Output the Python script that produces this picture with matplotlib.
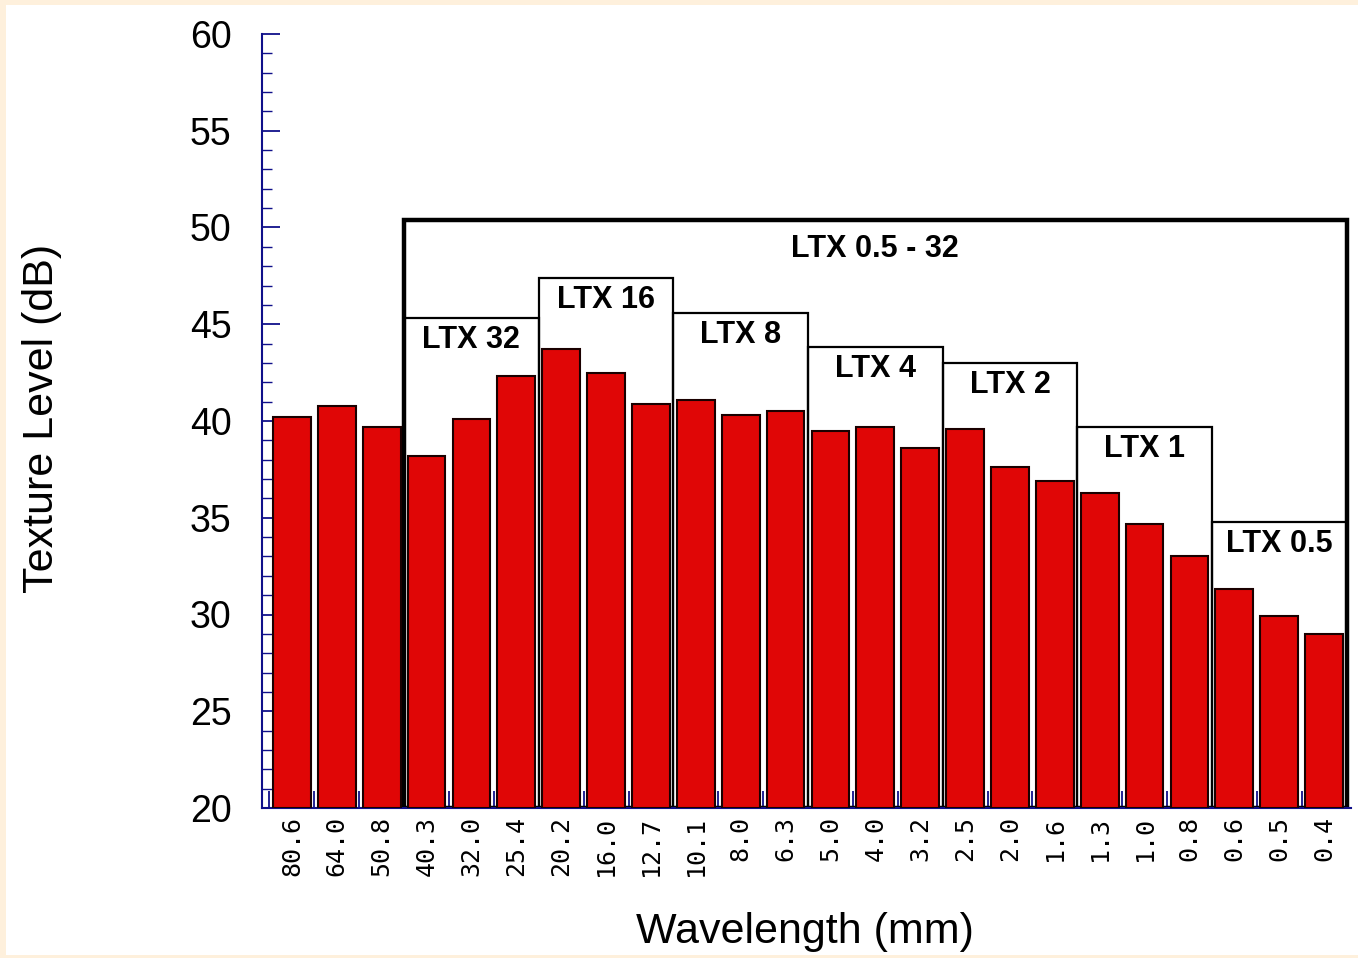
import matplotlib.pyplot as plt
from matplotlib.patches import Rectangle
from matplotlib.ticker import MultipleLocator, FixedLocator

plt.rcParams['font.family'] = ['Liberation Sans', 'DejaVu Sans']

wavelengths = ['80.6', '64.0', '50.8', '40.3', '32.0', '25.4', '20.2', '16.0',
               '12.7', '10.1', '8.0', '6.3', '5.0', '4.0', '3.2', '2.5', '2.0',
               '1.6', '1.3', '1.0', '0.8', '0.6', '0.5', '0.4']
levels = [40.2, 40.8, 39.7, 38.2, 40.1, 42.3, 43.7, 42.5, 40.9, 41.1, 40.3, 40.5,
          39.5, 39.7, 38.6, 39.6, 37.6, 36.9, 36.3, 34.7, 33.0, 31.3, 29.9, 29.0]

# LTX bands: label, first bar index, last bar index, box top (dB)
band_labels = ['LTX 32', 'LTX 16', 'LTX 8', 'LTX 4', 'LTX 2', 'LTX 1', 'LTX 0.5']
band_start = [3, 6, 9, 12, 15, 18, 21]
band_end = [5, 8, 11, 14, 17, 20, 23]
band_top = [45.3, 47.4, 45.6, 43.8, 43.0, 39.7, 34.8]
overall_label = 'LTX 0.5 - 32'
overall_top = 50.4

navy = '#10108a'

fig = plt.figure(figsize=(13.58, 9.58), dpi=100, facecolor='#fef0dc')
fig.add_artist(Rectangle((6 / 1358, 3 / 958), 1 - 6 / 1358, 1 - 8 / 958,
                         transform=fig.transFigure, facecolor='white',
                         edgecolor='none', zorder=0))
ax = fig.add_axes([262 / 1358, 1 - 808 / 958, (1351 - 262) / 1358, (808 - 34) / 958])
ax.set_facecolor('none')

x = list(range(len(levels)))
ax.bar(x, [v - 20 for v in levels], bottom=20, width=0.84, color='#e00606',
       edgecolor='#1a0000', linewidth=1.5, zorder=3)

ymin = 20
for lab, s, e, top in zip(band_labels, band_start, band_end, band_top):
    ax.add_patch(Rectangle((s - 0.5, ymin), e - s + 1, top - ymin, facecolor='none',
                           edgecolor='black', linewidth=1.6, zorder=2))
    ax.annotate(lab, ((s + e) / 2, top), xytext=(0, -5), textcoords='offset points',
                ha='center', va='top', fontsize=22, fontweight='bold', zorder=4)

s0, e0 = band_start[0], band_end[-1]
ax.add_patch(Rectangle((s0 - 0.5, ymin), e0 - s0 + 1, overall_top - ymin,
                       facecolor='none', edgecolor='black', linewidth=3.2, zorder=2.5))
ax.annotate(overall_label, ((s0 + e0) / 2, overall_top), xytext=(0, -10),
            textcoords='offset points', ha='center', va='top', fontsize=22,
            fontweight='bold', zorder=4)

ax.set_xlim(-0.667, 23.6)
ax.set_ylim(20, 60)
ax.yaxis.set_major_locator(MultipleLocator(5))
ax.yaxis.set_minor_locator(MultipleLocator(1))
ax.tick_params(axis='y', which='major', direction='in', length=13, width=1.3,
               color=navy, labelsize=27, pad=22)
ax.tick_params(axis='y', which='minor', direction='in', length=7, width=1.0, color=navy)

ax.set_xticks(x)
ax.set_xticklabels(wavelengths, rotation=90, fontsize=18, family='DejaVu Sans Mono')
ax.xaxis.set_minor_locator(FixedLocator([i - 0.5 for i in range(len(levels))]))
ax.tick_params(axis='x', which='major', length=0, pad=6)
ax.tick_params(axis='x', which='minor', direction='in', length=12, width=1.3, color=navy)

for side in ['top', 'right']:
    ax.spines[side].set_visible(False)
for side in ['left', 'bottom']:
    ax.spines[side].set_color(navy)
    ax.spines[side].set_linewidth(1.5)

ax.set_xlabel('Wavelength (mm)', fontsize=31)
ax.xaxis.set_label_coords((805 - 262) / 1089, -(932 - 808) / 774)
ax.xaxis.label.set_va('center')
ax.set_ylabel('Texture Level (dB)', fontsize=31)
ax.yaxis.set_label_coords((42 - 262) / 1089, (808 - 418) / 774)
ax.yaxis.label.set_va('center')

fig.savefig('out.png', dpi=100, facecolor=fig.get_facecolor())
